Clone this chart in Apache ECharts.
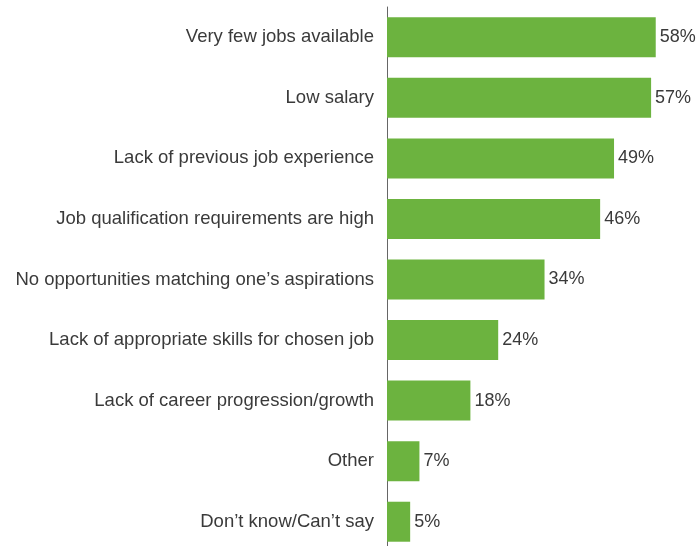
<!DOCTYPE html>
<html><head><meta charset="utf-8">
<script src="https://cdn.jsdelivr.net/npm/echarts@6/dist/echarts.min.js"></script>
<style>html,body{margin:0;padding:0;background:#fff}#c{width:699px;height:546px}</style>
</head><body><div id="c"></div>
<script>
var categories = ["Very few jobs available","Low salary","Lack of previous job experience","Job qualification requirements are high","No opportunities matching one\u2019s aspirations","Lack of appropriate skills for chosen job","Lack of career progression/growth","Other","Don\u2019t know/Can\u2019t say"];
var values = [58,57,49,46,34,24,18,7,5];
var chart = echarts.init(document.getElementById('c'));
chart.setOption({
  animation:false,
  grid:{left:387, top:7, width:278, height:545, outerBoundsMode:'none', containLabel:false},
  xAxis:{type:'value', min:0, max:60, show:false},
  yAxis:{type:'category', inverse:true, data:categories,
    axisLine:{show:true, lineStyle:{color:'#666', width:1}},
    axisTick:{show:false},
    axisLabel:{color:'#3a3a3a', fontSize:18.5, margin:13, fontFamily:'Liberation Sans, Arial, sans-serif'}},
  series:[{type:'bar', data:values, barWidth:40, itemStyle:{color:'#6cb33f'},
    label:{show:true, position:'right', distance:4, formatter:'{c}%', color:'#3a3a3a', fontSize:18, fontFamily:'Liberation Sans, Arial, sans-serif'}}]
});
</script></body></html>
